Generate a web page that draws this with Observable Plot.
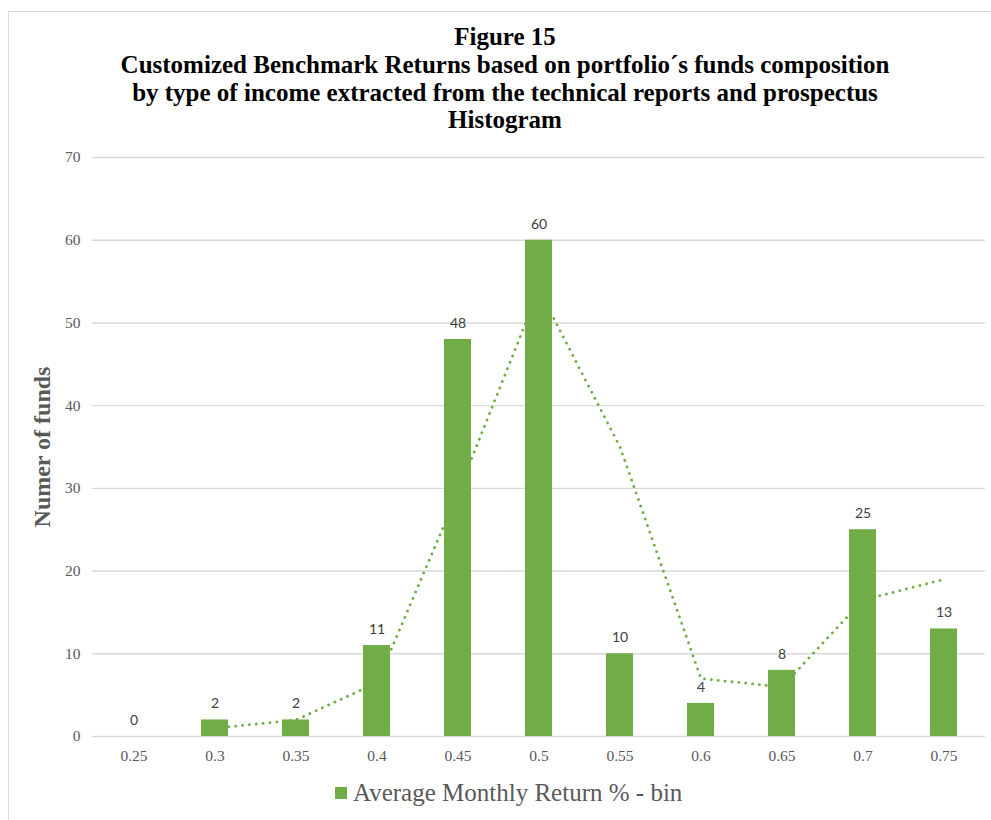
<!DOCTYPE html>
<html>
<head>
<meta charset="utf-8">
<script src="https://cdn.jsdelivr.net/npm/d3@7"></script>
<script src="https://cdn.jsdelivr.net/npm/@observablehq/plot@0.6"></script>
<style>
  html, body { margin: 0; padding: 0; background: #fff; }
  #frame { position: relative; width: 991px; height: 820px; overflow: hidden; }
  #border { position: absolute; left: 8px; top: 11px; width: 1000px; height: 900px;
            border-left: 1.5px solid #d9d9d9; border-top: 1.5px solid #d9d9d9; }
  #title { position: absolute; left: 8px; width: 994px; top: 23px; text-align: center;
           font-family: "Liberation Serif", "Times New Roman", serif; font-weight: bold; font-size: 25px;
           line-height: 27.8px; color: #000; }
  #chart { position: absolute; left: 0; top: 0; }
  #legend { position: absolute; left: 335px; top: 779px; font-family: "Liberation Serif", "Times New Roman", serif;
            font-size: 25px; color: #595959; display: flex; align-items: center; }
  #legend .sw { width: 12px; height: 12px; background: #70ad47; margin-right: 6px; }
</style>
</head>
<body>
<div id="frame">
  <div id="border"></div>
  <div id="title">Figure 15<br>Customized Benchmark Returns based on portfolio´s funds composition<br>by type of income extracted from the technical reports and prospectus<br>Histogram</div>
  <div id="chart"></div>
  <div id="legend"><span class="sw"></span><span>Average Monthly Return % - bin</span></div>
</div>
<script>
// Return bins (category labels on the x axis)
const bins = ["0.25", "0.3", "0.35", "0.4", "0.45", "0.5", "0.55", "0.6", "0.65", "0.7", "0.75"];
// Number of funds per bin
const counts = [0, 2, 2, 11, 48, 60, 10, 4, 8, 25, 13];
// Two-period moving average trend line (no value for the first bin)
const trend = [null, 1, 2, 6.5, 29.5, 54, 35, 7, 6, 16.5, 19];
// Y axis ticks
const yTicks = [0, 10, 20, 30, 40, 50, 60, 70];

const data = bins.map((b, i) => ({bin: b, count: counts[i], trend: trend[i]}));
const trendData = data.filter(d => d.trend != null);

const green = "#70ad47";
const grey = "#595959";
const serif = "Liberation Serif, Times New Roman, serif";

const chart = Plot.plot({
  width: 991,
  height: 820,
  marginLeft: 92,
  marginRight: 6,
  marginTop: 157,
  marginBottom: 84,
  style: {background: "transparent", overflow: "visible"},
  x: {type: "band", domain: bins, paddingInner: 0.67, paddingOuter: 0.335, axis: null},
  y: {domain: [0, 70], axis: null},
  marks: [
    Plot.gridY(yTicks, {stroke: "#d9d9d9", strokeOpacity: 1, strokeWidth: 1.4}),
    // y tick labels
    Plot.text(yTicks, {y: d => d, frameAnchor: "left", textAnchor: "end", dx: -12,
      fontFamily: serif, fontSize: 15.5, fill: grey}),
    // x tick labels
    Plot.text(bins, {x: d => d, y: 0, dy: 20, fontFamily: serif, fontSize: 15.5, fill: grey}),
    Plot.text(["Numer of funds"], {frameAnchor: "left", textAnchor: "middle", dx: -50, rotate: -90,
      fontFamily: serif, fontWeight: "bold", fontSize: 24, fill: grey}),
    Plot.lineY(trendData, {x: "bin", y: "trend", stroke: green, strokeWidth: 2.8,
      strokeDasharray: "0.1,6.8", strokeLinecap: "round", curve: "linear"}),
    Plot.barY(data, {x: "bin", y: "count", fill: green}),
    Plot.text(data, {x: "bin", y: "count", text: d => String(d.count), dy: -16,
      fontFamily: "Lato", fontSize: 14, fill: "#404040"})
  ]
});
document.getElementById("chart").appendChild(chart);
</script>
</body>
</html>
